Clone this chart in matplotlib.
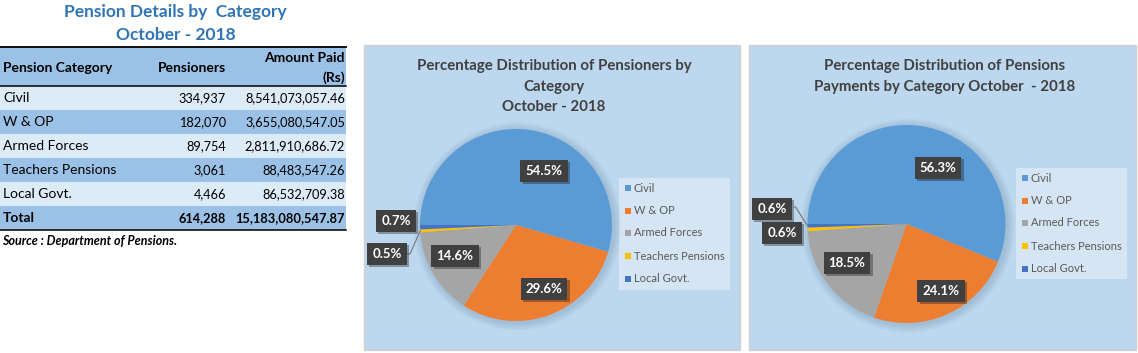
import matplotlib
matplotlib.use("Agg")
import matplotlib.pyplot as plt
from matplotlib.patches import Rectangle, Circle
import matplotlib.patheffects as pe
import numpy as np

plt.rcParams['font.family'] = ['Lato', 'DejaVu Sans']

# ---------------- data ----------------
categories = ["Civil", "W & OP", "Armed Forces", "Teachers Pensions", "Local Govt."]
pensioners = [334937, 182070, 89754, 3061, 4466]
amount_paid = [8541073057.46, 3655080547.05, 2811910686.72, 88483547.26, 86532709.38]
pensioners_label = ["334,937", "182,070", "89,754", "3,061", "4,466"]
amount_label = ["8,541,073,057.46", "3,655,080,547.05", "2,811,910,686.72",
                "88,483,547.26", "86,532,709.38"]
total_pensioners_label = "614,288"
total_amount_label = "15,183,080,547.87"

table_title = ["Pension Details by  Category", "October - 2018"]
col_headers = ["Pension Category", "Pensioners", "Amount Paid", "(Rs)"]
source_text = "Source : Department of Pensions."
pie1_title = "Percentage Distribution of Pensioners by\nCategory\nOctober - 2018"
pie2_title = "Percentage Distribution of Pensions\nPayments by Category October  - 2018"

colors = ["#5B9BD5", "#ED7D31", "#A5A5A5", "#FFC000", "#4472C4"]

# ---------------- layout ----------------
W, H = 1138, 353
fig = plt.figure(figsize=(W / 100, H / 100), dpi=100)
fig.patch.set_facecolor("white")
canvas = fig.add_axes([0, 0, 1, 1])
canvas.set_xlim(0, W)
canvas.set_ylim(H, 0)
canvas.axis("off")

# ---- table ----
title_blue = "#2E75B6"
canvas.text(175, 12, table_title[0], ha="center", va="center", color=title_blue,
            fontsize=12.5, fontweight="bold")
canvas.text(176, 35, table_title[1], ha="center", va="center", color=title_blue,
            fontsize=12.5, fontweight="bold")

tx0, tx1 = 0, 346
light, dark = "#DDEBF7", "#9BC2E6"
canvas.add_patch(Rectangle((tx0, 47), tx1 - tx0, 39, fc=dark, ec="none"))
row_top = 86
row_h = 24
nrows = len(categories) + 1
for i in range(nrows):
    fc = light if i % 2 == 0 else dark
    canvas.add_patch(Rectangle((tx0, row_top + i * row_h), tx1 - tx0, row_h, fc=fc, ec="none"))
canvas.plot([tx0, tx1], [47, 47], color="black", lw=1.3)
canvas.plot([tx0, tx1], [86, 86], color="black", lw=1.1)
canvas.plot([tx0, tx1], [row_top + nrows * row_h, row_top + nrows * row_h], color="black", lw=1.1)

xc, xp, xa = 3, 226, 345
fs = 10
fn = 9.2
canvas.text(xc, 68, col_headers[0], ha="left", va="center", fontsize=fs, fontweight="bold", color="black")
canvas.text(xp, 68, col_headers[1], ha="right", va="center", fontsize=fs, fontweight="bold", color="black")
canvas.text(xa, 58, col_headers[2], ha="right", va="center", fontsize=fs, fontweight="bold", color="black")
canvas.text(xa, 78, col_headers[3], ha="right", va="center", fontsize=fs, fontweight="bold", color="black")
for i, (c, p, a) in enumerate(zip(categories, pensioners_label, amount_label)):
    y = row_top + i * row_h + row_h / 2
    canvas.text(xc, y, c, ha="left", va="center", fontsize=fs, color="black")
    canvas.text(xp, y, p, ha="right", va="center", fontsize=fn, color="black")
    canvas.text(xa, y, a, ha="right", va="center", fontsize=fn, color="black")
y = row_top + (nrows - 1) * row_h + row_h / 2
canvas.text(xc, y, "Total", ha="left", va="center", fontsize=fs, fontweight="bold")
canvas.text(xp, y, total_pensioners_label, ha="right", va="center", fontsize=fn, fontweight="bold")
canvas.text(xa, y, total_amount_label, ha="right", va="center", fontsize=9.3, fontweight="bold")
canvas.text(2, 241, source_text, ha="left", va="center", fontsize=9, fontweight="bold", style="italic")

# ---- pie panels ----
panel_bg = "#BDD7EE"
legend_bg = "#D6E5F4"
label_bg = "#404040"
title_grey = "#404040"
legend_grey = "#595959"


def draw_panel(x0, x1, y0, y1, cx, cy, r, values, title, title_y, labels_layout,
               leader, legend_box, legend_ys):
    canvas.add_patch(Rectangle((x0, y0), x1 - x0, y1 - y0, fc=panel_bg, ec="#D0D0D0", lw=1))
    canvas.text((x0 + x1) / 2 + 2, title_y, title, ha="center", va="top", fontsize=10.8,
                fontweight="bold", color=title_grey, linespacing=1.6)
    S = r + 14
    ax = fig.add_axes([(cx - S) / W, (H - cy - S) / H, 2 * S / W, 2 * S / H])
    ax.set_xlim(-S, S)
    ax.set_ylim(-S, S)
    ax.axis("off")
    # soft shadow
    for k in range(8):
        ax.add_patch(Circle((1.5, -1.5), r + 1 + k, fc="#5a7fa0", ec="none", alpha=0.035, zorder=0))
    wedges, _ = ax.pie(values, colors=colors, startangle=180, counterclock=False,
                       radius=r, center=(0, 0), wedgeprops=dict(linewidth=0))
    ax.set_xlim(-S, S)
    ax.set_ylim(-S, S)
    total = sum(values)
    for idx, (dx, dy) in labels_layout.items():
        pct = 100 * values[idx] / total
        t = ax.text(dx, dy, f"{pct:.1f}%", ha="center", va="center", color="white",
                    fontsize=9.5, fontweight="bold", zorder=5,
                    bbox=dict(boxstyle="square,pad=0.38", fc=label_bg, ec="none"))
        t.get_bbox_patch().set_path_effects([pe.SimplePatchShadow(offset=(1.5, -1.5), alpha=0.35),
                                             pe.Normal()])
    # leader line
    idx, pts = leader
    w = wedges[idx]
    mid = np.deg2rad((w.theta1 + w.theta2) / 2)
    ex, ey = r * np.cos(mid), r * np.sin(mid)
    xs = [p[0] for p in pts] + [ex]
    ys = [p[1] for p in pts] + [ey]
    ax.plot(xs, ys, color="#7F7F7F", lw=0.9, zorder=4)
    # legend
    lx0, lx1, ly0, ly1 = legend_box
    canvas.add_patch(Rectangle((lx0, ly0), lx1 - lx0, ly1 - ly0, fc=legend_bg, ec="none"))
    for c, col, ly in zip(categories, colors, legend_ys):
        canvas.add_patch(Rectangle((lx0 + 6, ly - 3), 6, 6, fc=col, ec="none"))
        canvas.text(lx0 + 15, ly, c, ha="left", va="center", fontsize=8, color=legend_grey)


draw_panel(364, 740, 45, 350, 516, 225, 96, pensioners, pie1_title, 59,
           {0: (28, 54), 1: (28, -64), 2: (-61, -31), 4: (-120, 4), 3: (-129, -29)},
           (3, [(-112, -29), (-106, -29)]),
           (619, 730, 178, 290), [188, 211, 233, 256, 279])

draw_panel(749, 1136, 45, 350, 906.5, 224, 99, amount_paid, pie2_title, 59,
           {0: (31.5, 56), 1: (34.5, -67), 2: (-59.5, -39), 4: (-134.5, 15), 3: (-124.5, -9)},
           (4, [(-118, 17), (-111, 17)]),
           (1016, 1127, 168, 279), [178, 201, 223, 246, 269])

fig.savefig("out.png", dpi=100)
